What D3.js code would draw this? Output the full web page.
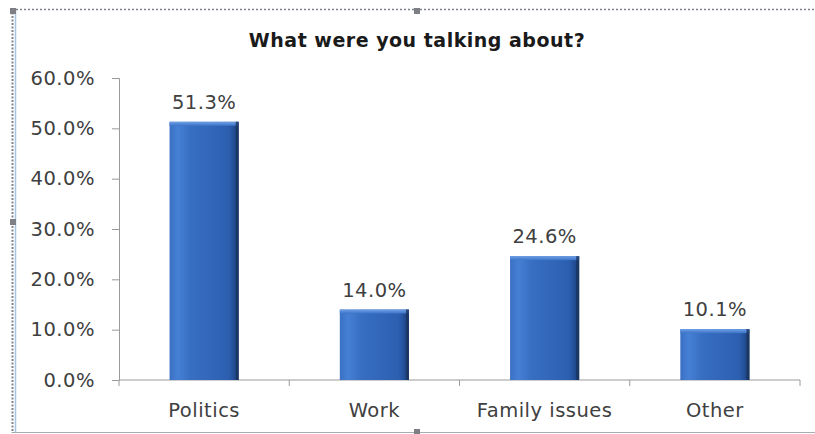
<!DOCTYPE html>
<html>
<head>
<meta charset="utf-8">
<script src="https://cdn.jsdelivr.net/npm/d3@7"></script>
<style>
  html, body { margin: 0; padding: 0; background: #fff; }
  svg { display: block; }
  text { font-family: "DejaVu Sans", sans-serif; fill: #404040; letter-spacing: 0.5px; }
</style>
</head>
<body>
<svg id="chart" width="815" height="434"></svg>
<script>
// Survey: topic of conversation
const categories = ["Politics", "Work", "Family issues", "Other"];
const shares = [51.3, 14.0, 24.6, 10.1];
const tickValues = [0, 10, 20, 30, 40, 50, 60];
const chartTitle = "What were you talking about?";

const plot = { left: 119, right: 800, top: 78, bottom: 380 };
const labelFont = "19.5px";

const svg = d3.select("#chart");

// frame of the chart object
const frame = svg.append("g");
frame.append("line").attr("x1", 12).attr("x2", 815).attr("y1", 9.5).attr("y2", 9.5)
  .attr("stroke", "#7d828a").attr("stroke-width", 1.5).attr("stroke-dasharray", "2,2");
frame.append("line").attr("x1", 12).attr("x2", 815).attr("y1", 432.5).attr("y2", 432.5)
  .attr("stroke", "#a9adb3").attr("stroke-width", 1);
frame.append("line").attr("x1", 12.5).attr("x2", 12.5).attr("y1", 9).attr("y2", 433)
  .attr("stroke", "#7f8690").attr("stroke-width", 2).attr("stroke-dasharray", "2,1.5");
frame.append("line").attr("x1", 15.5).attr("x2", 15.5).attr("y1", 10).attr("y2", 432)
  .attr("stroke", "#a8c4e0").attr("stroke-width", 1.5);
[[13, 11], [417, 11], [13, 222], [417, 432]].forEach(([cx, cy]) => {
  frame.append("rect").attr("x", cx - 3).attr("y", cy - 3).attr("width", 6).attr("height", 6)
    .attr("fill", "#7d7f84");
});

// gradients for the bevelled bars
const defs = svg.append("defs");
const grad = defs.append("linearGradient").attr("id", "barFill")
  .attr("x1", "0").attr("x2", "1").attr("y1", "0").attr("y2", "0");
[[0, "#3a70c4"], [0.12, "#4580d4"], [0.3, "#386fc3"], [0.85, "#2c5fb0"], [0.93, "#234f97"], [1, "#1a3a6e"]]
  .forEach(([o, c]) => grad.append("stop").attr("offset", o).attr("stop-color", c));
const topGrad = defs.append("linearGradient").attr("id", "barTop")
  .attr("x1", "0").attr("x2", "0").attr("y1", "0").attr("y2", "1");
[[0, "#6fa0e6"], [1, "#3d74c8"]].forEach(([o, c]) => topGrad.append("stop").attr("offset", o).attr("stop-color", c));

const x = d3.scaleBand().domain(categories).range([plot.left, plot.right])
  .paddingInner(0.594).paddingOuter(0.297);
const y = d3.scaleLinear().domain([0, 60]).range([plot.bottom, plot.top]);

// title
svg.append("text").attr("x", 417).attr("y", 47).attr("text-anchor", "middle")
  .style("font-size", "19px").style("font-weight", "bold").style("fill", "#1a1a1a")
  .text(chartTitle);

// y axis
const yAxis = d3.axisLeft(y).tickValues(tickValues).tickSize(7).tickPadding(17)
  .tickFormat(d => d.toFixed(1) + "%");
const gy = svg.append("g").attr("transform", `translate(${plot.left},0)`).call(yAxis);
gy.select(".domain").attr("stroke", "#9a9a9a");
gy.selectAll(".tick line").attr("stroke", "#9a9a9a");
gy.selectAll(".tick text").style("font-size", labelFont).style("fill", "#404040")
  .style("font-family", "\"DejaVu Sans\", sans-serif");

// x axis with ticks between categories
const gx = svg.append("g").attr("transform", `translate(0,${plot.bottom})`);
gx.append("line").attr("x1", plot.left).attr("x2", plot.right).attr("stroke", "#9a9a9a");
const boundaries = categories.map(c => x(c) - x.step() * x.paddingOuter())
  .concat([plot.right]);
gx.selectAll("line.sep").data(boundaries).join("line").attr("class", "sep")
  .attr("x1", d => d).attr("x2", d => d).attr("y1", 0).attr("y2", 6).attr("stroke", "#9a9a9a");
gx.selectAll("text").data(categories).join("text")
  .attr("x", d => x(d) + x.bandwidth() / 2).attr("y", 37).attr("text-anchor", "middle")
  .style("font-size", labelFont).text(d => d);

// bars
const bars = svg.append("g").selectAll("g.bar").data(categories).join("g").attr("class", "bar");
bars.append("rect")
  .attr("x", d => x(d)).attr("width", x.bandwidth())
  .attr("y", (d, i) => y(shares[i])).attr("height", (d, i) => y(0) - y(shares[i]))
  .attr("fill", "url(#barFill)");
bars.append("rect")
  .attr("x", d => x(d)).attr("width", x.bandwidth())
  .attr("y", (d, i) => y(shares[i])).attr("height", 4)
  .attr("fill", "url(#barTop)");
bars.append("rect")
  .attr("x", d => x(d) + x.bandwidth() - 3).attr("width", 3)
  .attr("y", (d, i) => y(shares[i])).attr("height", (d, i) => y(0) - y(shares[i]))
  .attr("fill", "#1a355f").attr("opacity", 0.8);

// value labels
bars.append("text")
  .attr("x", d => x(d) + x.bandwidth() / 2).attr("y", (d, i) => y(shares[i]) - 13)
  .attr("text-anchor", "middle").style("font-size", labelFont)
  .text((d, i) => shares[i].toFixed(1) + "%");
</script>
</body>
</html>
